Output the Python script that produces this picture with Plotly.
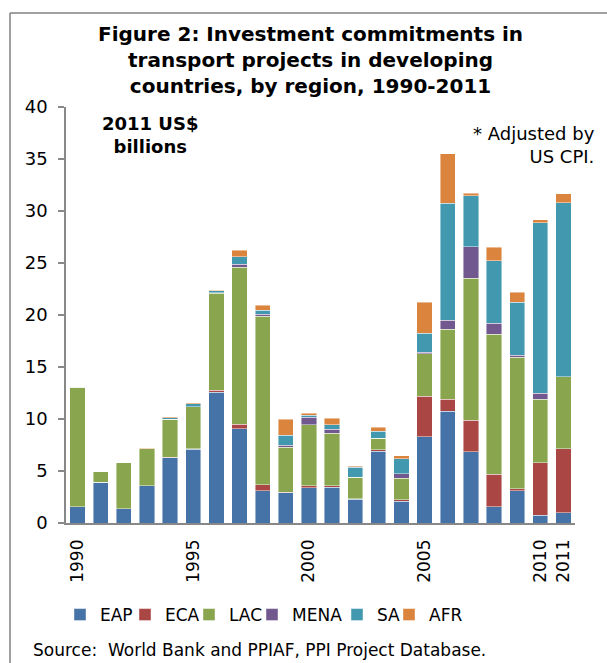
import plotly.graph_objects as go

years = list(range(1990, 2012))
regions = ["EAP", "ECA", "LAC", "MENA", "SA", "AFR"]
colors = ["#4572A7", "#AA4643", "#89A54E", "#71588F", "#4198AF", "#DB843D"]

EAP = [1.57, 3.90, 1.35, 3.59, 6.28, 7.08, 12.56, 9.04, 3.10, 2.92, 3.40, 3.46, 2.28, 6.89, 2.08, 8.27, 10.74, 6.83, 1.57, 3.11, 0.74, 0.99]
ECA = [0, 0, 0, 0, 0.05, 0.05, 0.20, 0.45, 0.58, 0.05, 0.16, 0.10, 0.03, 0.13, 0.16, 3.94, 1.18, 3.07, 3.11, 0.19, 5.06, 6.16]
LAC = [11.50, 1.03, 4.42, 3.56, 3.64, 4.07, 9.33, 15.11, 16.22, 4.33, 5.89, 5.09, 2.11, 1.12, 2.06, 4.08, 6.73, 13.63, 13.46, 12.66, 6.12, 6.89]
MENA = [0, 0, 0, 0, 0, 0, 0.05, 0.26, 0.19, 0.19, 0.70, 0.35, 0, 0, 0.45, 0.13, 0.84, 3.01, 1.06, 0.16, 0.55, 0]
SA = [0.05, 0, 0, 0, 0.16, 0.26, 0.20, 0.74, 0.38, 0.96, 0.19, 0.45, 0.93, 0.70, 1.41, 1.83, 11.25, 4.93, 6.02, 5.13, 16.41, 16.76]
AFR = [0, 0, 0, 0.03, 0.10, 0.12, 0.06, 0.64, 0.45, 1.51, 0.19, 0.64, 0.13, 0.35, 0.29, 2.98, 4.76, 0.23, 1.28, 0.96, 0.26, 0.87]

tick_years = [1990, 1995, 2000, 2005, 2010, 2011]
tick_labels = ["1990", "1995", "2000", "2005", "2010", "2011"]

title_text = "Figure 2: Investment commitments in<br>transport projects in developing<br>countries, by region, 1990-2011"
unit_text = "2011 US$<br>billions"
note_text = "* Adjusted by<br>US CPI."
source_text = "Source:  World Bank and PPIAF, PPI Project Database."

FONT = "DejaVu Sans"
AXIS_GREY = "#888888"

# plot area pixel geometry
L, R, T, B = 66, 32, 107, 140
W, H = 607, 663
pw = W - L - R
ph = H - T - B

def px(x):
    return (x - L) / pw

def py(y):
    return (H - B - y) / ph

legend_ids = ["legend", "legend2", "legend3", "legend4", "legend5", "legend6"]
legend_left = [78, 143, 207, 270, 355, 407]  # left edge of each legend swatch (px)
SWATCH_OFFSET = 18

fig = go.Figure()
for name, vals, col, lid in zip(regions, [EAP, ECA, LAC, MENA, SA, AFR], colors, legend_ids):
    fig.add_trace(go.Bar(
        x=years, y=vals, name=name, legend=lid,
        marker=dict(color=col, line=dict(color="rgba(255,255,255,0.55)", width=0.8)),
    ))

legend_layout = {}
for lid, lx in zip(legend_ids, legend_left):
    legend_layout[lid] = dict(orientation="h", x=px(lx - SWATCH_OFFSET), xanchor="left",
                              y=py(615), yanchor="middle", font=dict(size=17, family=FONT),
                              itemwidth=30, bgcolor="rgba(0,0,0,0)")

fig.update_layout(
    width=W, height=H,
    margin=dict(l=L, r=R, t=T, b=B, pad=0),
    barmode="stack", bargap=0.34,
    plot_bgcolor="white", paper_bgcolor="white",
    font=dict(family=FONT, size=17, color="black"),
    showlegend=True,
    xaxis=dict(range=[1989.5, 2011.5], tickmode="array", tickvals=tick_years, ticktext=tick_labels,
               tickangle=-90, showline=True, linecolor=AXIS_GREY, linewidth=1.5, ticks="",
               showgrid=False, zeroline=False, tickfont=dict(size=17), ticklabelstandoff=8),
    yaxis=dict(range=[0, 40], dtick=5, showline=True, linecolor=AXIS_GREY, linewidth=1.5,
               ticks="outside", ticklen=6, tickcolor=AXIS_GREY, tickwidth=1.5,
               showgrid=False, zeroline=False, tickfont=dict(size=18), ticklabelstandoff=7),
    annotations=[
        dict(text=title_text, x=px(310.5), y=py(59.5), xref="paper", yref="paper",
             xanchor="center", yanchor="middle", showarrow=False, align="center",
             font=dict(family=FONT, size=20, color="black", weight="bold")),
        dict(text=unit_text, x=px(150), y=py(135), xref="paper", yref="paper",
             xanchor="center", yanchor="middle", showarrow=False, align="center",
             font=dict(family=FONT, size=18, color="black", weight="bold")),
        dict(text=note_text, x=px(597), y=py(144.5), xref="paper", yref="paper",
             xanchor="right", yanchor="middle", showarrow=False, align="right",
             font=dict(family=FONT, size=18, color="black")),
        dict(text=source_text, x=px(31), y=py(650), xref="paper", yref="paper",
             xanchor="left", yanchor="middle", showarrow=False, align="left",
             font=dict(family=FONT, size=17, color="black")),
    ],
    shapes=[
        dict(type="line", xref="paper", yref="paper", x0=px(10), x1=px(640), y0=py(13), y1=py(13),
             line=dict(color="#808080", width=1.5)),
        dict(type="line", xref="paper", yref="paper", x0=px(10), x1=px(10), y0=py(13), y1=py(700),
             line=dict(color="#808080", width=1.5)),
    ],
    **legend_layout,
)

fig.write_html("out.html", config={"displayModeBar": False},
               post_script="document.body.style.margin='0px';")
